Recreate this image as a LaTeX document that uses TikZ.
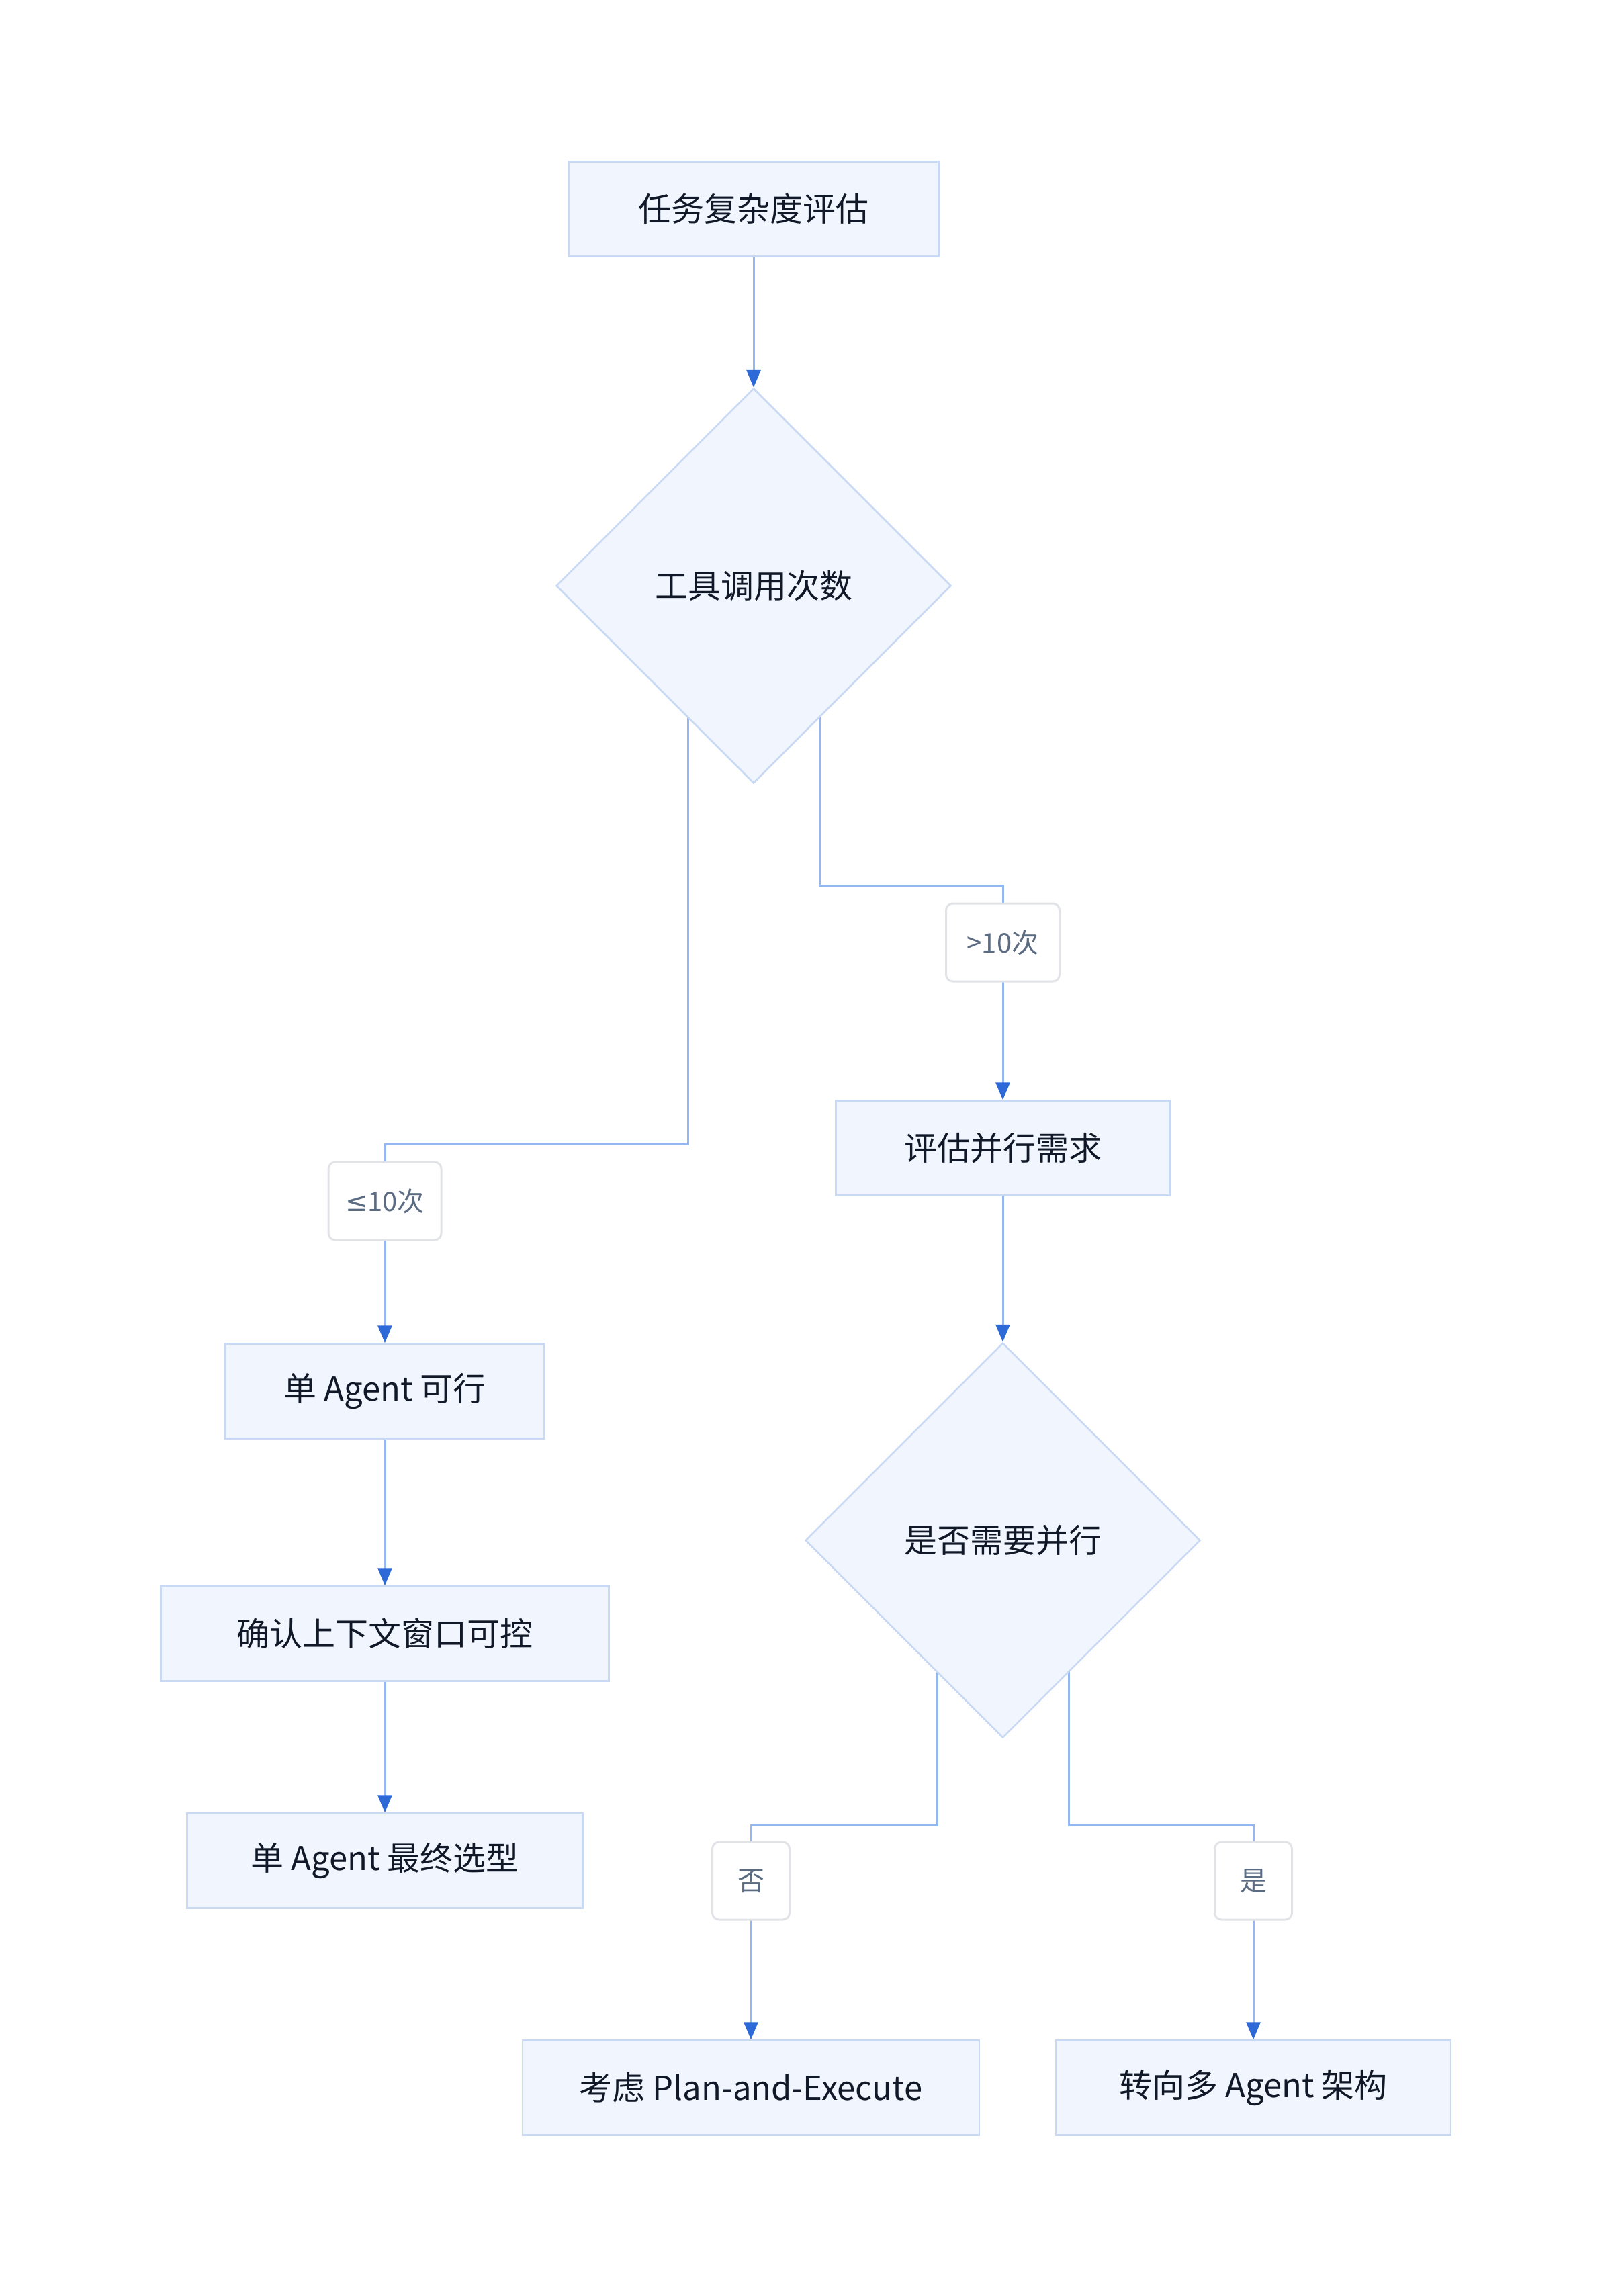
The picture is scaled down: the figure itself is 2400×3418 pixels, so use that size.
\documentclass[tikz,border=0pt]{standalone}
\usepackage{fontspec}
\setmainfont{Noto Sans CJK SC}
\newfontfamily\symfont{DejaVu Sans}
\usetikzlibrary{shapes.geometric,arrows.meta}
\definecolor{boxfill}{HTML}{F0F5FE}
\definecolor{boxline}{HTML}{C9D9F3}
\definecolor{txt}{HTML}{111827}
\definecolor{lbltxt}{HTML}{5B6B82}
\definecolor{lblline}{HTML}{E1E3E7}
\definecolor{conn}{HTML}{94B6F1}
\definecolor{tipc}{HTML}{2E69D8}
\pgfdeclarelayer{bg}
\pgfsetlayers{bg,main}
\tikzset{
  procbox/.style={draw=boxline, fill=boxfill, line width=2.5pt, rectangle, minimum height=141pt, inner sep=0pt, text=txt, font=\fontsize{49}{59}\selectfont},
  decide/.style={draw=boxline, fill=boxfill, line width=2.5pt, diamond, minimum width=588pt, minimum height=588pt, inner sep=0pt, text=txt, font=\fontsize{49}{59}\selectfont},
  lbl/.style={draw=lblline, fill=white, line width=3pt, rounded corners=10pt, minimum height=116pt, inner sep=0pt, text=lbltxt, font=\fontsize{40}{48}\selectfont},
  connline/.style={draw=conn, line width=3pt, -{Triangle[length=26pt,width=21pt,color=tipc]}}
}
\begin{document}
\begin{tikzpicture}[x=1pt,y=-1pt]
\useasboundingbox (0,0) rectangle (2400,3418);
% nodes
\node[procbox, minimum width=551pt] (top) at (1122,311) {任务复杂度评估};
\node[decide] (d1) at (1122,872) {工具调用次数};
\node[procbox, minimum width=497pt] (eval) at (1493,1709) {评估并行需求};
\node[decide] (d2) at (1493,2293) {是否需要并行};
\node[procbox, minimum width=475pt] (single) at (573,2071) {单 Agent 可行};
\node[procbox, minimum width=667pt] (confirm) at (573,2432) {确认上下文窗口可控};
\node[procbox, minimum width=589pt] (final) at (573,2770) {单 Agent 最终选型};
\node[procbox, minimum width=680pt] (plan) at (1118,3108) {考虑 Plan-and-Execute};
\node[procbox, minimum width=588pt] (multi) at (1866,3108) {转向多 Agent 架构};
% edge labels
\node[lbl, minimum width=168pt] (l1) at (573,1788) {{\symfont ≤}10次};
\node[lbl, minimum width=169pt] (l2) at (1493,1403) {>10次};
\node[lbl, minimum width=115pt] (l3) at (1118,2800) {否};
\node[lbl, minimum width=115pt] (l4) at (1866,2800) {是};
% bend coordinates
\coordinate (s1) at (1024,872);
\coordinate (k1) at (573,1703);
\coordinate (s2) at (1220,872);
\coordinate (k2) at (1493,1318);
\coordinate (s3) at (1395,2293);
\coordinate (k3) at (1118,2717);
\coordinate (s4) at (1591,2293);
\coordinate (k4) at (1866,2717);
\begin{pgfonlayer}{bg}
\draw[connline] (top.south) -- (d1.north);
\draw[connline] (s1) |- (k1) -- (single.north);
\draw[connline] (s2) |- (k2) -- (eval.north);
\draw[connline] (eval.south) -- (d2.north);
\draw[connline] (single.south) -- (confirm.north);
\draw[connline] (confirm.south) -- (final.north);
\draw[connline] (s3) |- (k3) -- (plan.north);
\draw[connline] (s4) |- (k4) -- (multi.north);
\end{pgfonlayer}
\end{tikzpicture}
\end{document}
